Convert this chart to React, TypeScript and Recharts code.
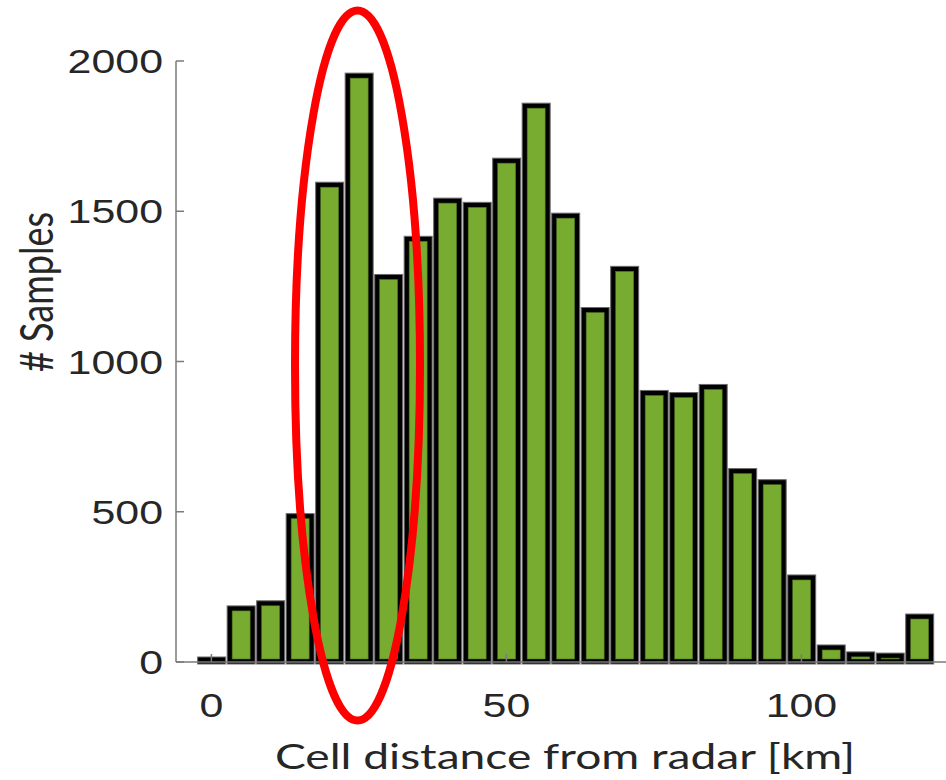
import React from "react"
import { BarChart, Bar, XAxis, YAxis, Label } from "recharts"

// bin centres (km) and counts per 5 km bin
const binCenters = [0, 5, 10, 15, 20, 25, 30, 35, 40, 45, 50, 55, 60, 65, 70, 75, 80, 85, 90, 95, 100, 105, 110, 115, 120]
const sampleCounts = [10, 180, 197, 487, 1590, 1953, 1283, 1410, 1537, 1523, 1670, 1853, 1487, 1173, 1310, 897, 890, 917, 637, 600, 283, 50, 27, 23, 153]
const xTicks = [0, 50, 100]
const yTicks = [0, 500, 1000, 1500, 2000]

const data = binCenters.map((x, i) => ({ x, count: sampleCounts[i] }))

const TEXT = "#262626"
const AXIS = "#7a7a7a"
const GREEN = "#77ac30"
const STRETCH = 1.3

const BinShape = (props: any) => {
  const { x, y, width, height, background } = props
  const cx = x + width / 2
  const base = background ? background.y + background.height : y + height
  const outerW = 28
  const inner = 9
  const top = y - 2
  return (
    <g>
      <rect x={cx - outerW / 2} y={top} width={outerW} height={base + 2 - top} fill="#000" stroke="#6b6b6b" strokeWidth={1} />
      {base - 3 - (y + 3) > 0 && (
        <rect x={cx - inner} y={y + 3} width={inner * 2} height={base - 3 - (y + 3)} fill={GREEN} stroke="#4d6f1f" strokeWidth={0.6} />
      )}
    </g>
  )
}

const BottomTick = (props: any) => {
  const { x, y, payload } = props
  return (
    <g>
      <line x1={x} y1={y} x2={x} y2={y - 8} stroke={AXIS} strokeWidth={1.5} />
      <text transform={`translate(${x},${y + 55}) scale(${STRETCH},1)`} textAnchor="middle" fill={TEXT} fontSize={33} fontFamily="Liberation Sans, Arial, sans-serif">
        {payload.value}
      </text>
    </g>
  )
}

const TopTick = (props: any) => {
  const { x, y } = props
  return <line x1={x} y1={y} x2={x} y2={y + 8} stroke={AXIS} strokeWidth={1.5} />
}

const LeftTick = (props: any) => {
  const { x, y, payload } = props
  return (
    <g>
      <line x1={x} y1={y} x2={x + 8} y2={y} stroke={AXIS} strokeWidth={1.5} />
      <text transform={`translate(${x - 13},${y + 12}) scale(${STRETCH},1)`} textAnchor="end" fill={TEXT} fontSize={33} fontFamily="Liberation Sans, Arial, sans-serif">
        {payload.value}
      </text>
    </g>
  )
}

const XLabel = (props: any) => {
  const { viewBox } = props
  const cx = viewBox.x + 389
  return (
    <text transform={`translate(${cx},${viewBox.y + 107}) scale(${STRETCH},1)`} textAnchor="middle" fill={TEXT} fontSize={35.5} fontFamily="Lato, sans-serif">
      Cell distance from radar [km]
    </text>
  )
}

const YLabel = () => (
  <text transform={`translate(53,292) scale(${STRETCH},1) rotate(-90)`} textAnchor="middle" fill={TEXT} fontSize={36} fontFamily="Lato, sans-serif">
    # Samples
  </text>
)

export default function App() {
  return (
    <div style={{ position: "absolute", left: 0, top: 0, width: 946, height: 780, overflow: "hidden", background: "#fff" }}>
      <BarChart width={946} height={780} data={data} margin={{ top: 61, right: 0, left: 0, bottom: 0 }} barCategoryGap={0} barGap={0}>
        <XAxis
          dataKey="x"
          type="number"
          domain={[-6, 124.5]}
          ticks={xTicks}
          allowDataOverflow
          height={118}
          tickSize={0}
          tickMargin={0}
          tickLine={false}
          axisLine={{ stroke: AXIS, strokeWidth: 1.5 }}
          tick={<BottomTick />}
        >
          <Label content={<XLabel />} />
        </XAxis>
        <XAxis
          xAxisId="top"
          orientation="top"
          dataKey="x"
          type="number"
          domain={[-6, 124.5]}
          ticks={xTicks}
          allowDataOverflow
          height={0}
          tickSize={0}
          tickLine={false}
          axisLine={{ stroke: AXIS, strokeWidth: 1.5 }}
          tick={<TopTick />}
        />
        <YAxis
          type="number"
          domain={[0, 2000]}
          ticks={yTicks}
          width={176}
          tickSize={0}
          tickMargin={0}
          tickLine={false}
          axisLine={{ stroke: AXIS, strokeWidth: 1.5 }}
          tick={<LeftTick />}
        >
          <Label content={<YLabel />} />
        </YAxis>
        <Bar dataKey="count" isAnimationActive={false} shape={<BinShape />} />
      </BarChart>
      <svg width={946} height={780} style={{ position: "absolute", left: 0, top: 0, pointerEvents: "none" }}>
        <ellipse cx={357.5} cy={365.5} rx={62.5} ry={355} fill="none" stroke="#ff0000" strokeWidth={8} />
      </svg>
    </div>
  )
}
